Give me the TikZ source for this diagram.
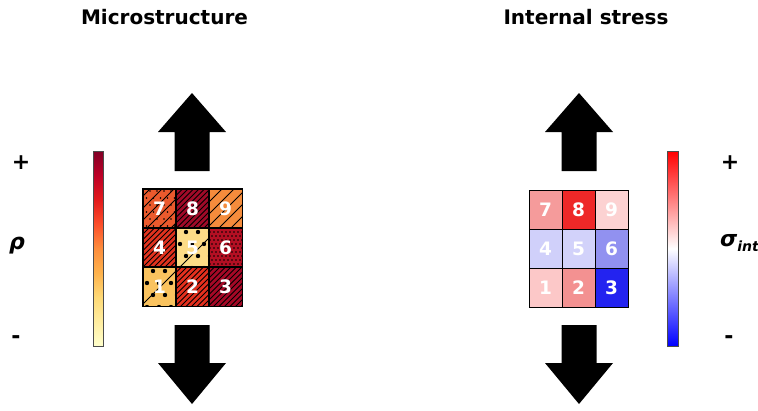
\documentclass[tikz,border=0pt]{standalone}
\usepackage{fontspec}
\setmainfont{DejaVu Sans}
\usetikzlibrary{calc}
\definecolor{yo0}{HTML}{FFFFCC}
\definecolor{yo1}{HTML}{FFEDA0}
\definecolor{yo2}{HTML}{FED976}
\definecolor{yo3}{HTML}{FEB24C}
\definecolor{yo4}{HTML}{FD8D3C}
\definecolor{yo5}{HTML}{FC4E2A}
\definecolor{yo6}{HTML}{E31A1C}
\definecolor{yo7}{HTML}{BD0026}
\definecolor{yo8}{HTML}{800026}
\pgfdeclareverticalshading{ylorrd}{100bp}{color(0bp)=(yo0); color(25bp)=(yo0); color(31.25bp)=(yo1); color(37.5bp)=(yo2); color(43.75bp)=(yo3); color(50bp)=(yo4); color(56.25bp)=(yo5); color(62.5bp)=(yo6); color(68.75bp)=(yo7); color(75bp)=(yo8); color(100bp)=(yo8)}
\pgfdeclareverticalshading{bwr}{100bp}{color(0bp)=(blue); color(25bp)=(blue); color(50bp)=(white); color(75bp)=(red); color(100bp)=(red)}
% left cell colours
\definecolor{La}{HTML}{FAC35F}
\definecolor{Lb}{HTML}{E4301E}
\definecolor{Lc}{HTML}{A50826}
\definecolor{Ld}{HTML}{E1321E}
\definecolor{Le}{HTML}{FDDC87}
\definecolor{Lf}{HTML}{B40F23}
\definecolor{Lg}{HTML}{EB5A2D}
\definecolor{Lh}{HTML}{A00A28}
\definecolor{Li}{HTML}{F58C3C}
% right cell colours
\definecolor{Ra}{HTML}{FCC8C8}
\definecolor{Rb}{HTML}{F39191}
\definecolor{Rc}{HTML}{2323F0}
\definecolor{Rd}{HTML}{D0D0FA}
\definecolor{Re}{HTML}{D2D2FA}
\definecolor{Rf}{HTML}{9191F0}
\definecolor{Rg}{HTML}{F59B9B}
\definecolor{Rh}{HTML}{EE2828}
\definecolor{Ri}{HTML}{FCD2D2}
\newcommand{\hatchdiag}[3]{%
  \begin{scope}
    \clip (#1.south west) rectangle (#1.north east);
    \foreach \s in {#3,#2,...,560} \draw[hatchline] (\s-320,320) -- (\s-180,180);
  \end{scope}}
\newcommand{\hatchone}[2]{%
  \begin{scope}
    \clip (#1.south west) rectangle (#1.north east);
    \draw[hatchline] (#2-320,320) -- (#2-180,180);
  \end{scope}}
\newcommand{\hatchdots}[6]{% cell, spacing, radius, shift of odd rows, x0, y0
  \begin{scope}
    \clip (#1.south west) rectangle (#1.north east);
    \pgfmathtruncatemacro{\nmax}{44/#2+1}
    \foreach \i in {0,...,\nmax} \foreach \j in {0,...,\nmax} {
      \pgfmathsetmacro{\xx}{#5+\i*#2+mod(\j,2)*#4}
      \pgfmathsetmacro{\yy}{#6+\j*#2}
      \fill (\xx,\yy) circle (#3);
    }
  \end{scope}}
\tikzset{
  cell/.style={minimum width=33pt, minimum height=39pt, inner sep=0pt, draw=black, line width=0.8pt},
  num/.style={text=white, font=\fontsize{18.5}{20}\selectfont\bfseries, inner sep=0pt},
  hatchline/.style={black, line width=0.9pt},
  title/.style={font=\fontsize{20}{24}\selectfont\bfseries, inner sep=0pt},
  sign/.style={font=\fontsize{22}{26}\selectfont\bfseries, inner sep=0pt},
  bigarrow/.style={fill=black, draw=none},
  cbar/.style={draw=black!70, line width=0.6pt}
}
\begin{document}
\begin{tikzpicture}[x=1pt, y=-1pt]
\useasboundingbox[fill=white] (0,0) rectangle (758,410);
% titles
\node[title] (t1) at (164.5,17) {Microstructure};
\node[title] (t2) at (586,17) {Internal stress};
% arrows
\foreach \cx/\nm in {192/la, 579/ra} {
  \fill[bigarrow] (\cx,93) -- (\cx+34,132) -- (\cx+17.5,132) -- (\cx+17.5,171) -- (\cx-17.5,171) -- (\cx-17.5,132) -- (\cx-34,132) -- cycle;
  \fill[bigarrow] (\cx,404) -- (\cx+34,363) -- (\cx+17.5,363) -- (\cx+17.5,325) -- (\cx-17.5,325) -- (\cx-17.5,363) -- (\cx-34,363) -- cycle;
}
% colour bars
\shade[shading=ylorrd, cbar] (93,151) rectangle (103,346);
\draw[cbar] (93,151) rectangle (103,346);
\shade[shading=bwr, cbar] (667,151) rectangle (678,346);
\draw[cbar] (667,151) rectangle (678,346);
% labels
\node[sign] (lp) at (21,163) {+};
\node[sign] (lr) at (17,246) {\itshape ρ};
\node[sign] (lm) at (16,340) {-};
\node[sign] (rp) at (730,163) {+};
\node[sign, anchor=west] (rs) at (720,243) {\itshape σ\raisebox{-0.35ex}{\fontsize{14}{15}\selectfont int}};
\node[sign] (rm) at (729,340) {-};
% left grid cells
\node[cell, fill=Lg] (L7) at (159.5,208.5) {};
\node[cell, fill=Lh] (L8) at (192.5,208.5) {};
\node[cell, fill=Li] (L9) at (225.5,208.5) {};
\node[cell, fill=Ld] (L4) at (159.5,247.5) {};
\node[cell, fill=Le] (L5) at (192.5,247.5) {};
\node[cell, fill=Lf] (L6) at (225.5,247.5) {};
\node[cell, fill=La] (L1) at (159.5,286.5) {};
\node[cell, fill=Lb] (L2) at (192.5,286.5) {};
\node[cell, fill=Lc] (L3) at (225.5,286.5) {};
% hatching
\hatchdiag{L7}{351}{339}
\hatchdots{L7}{7}{0.9}{3.5}{143}{191}
\hatchdiag{L8}{338.5}{333}
\hatchdiag{L9}{351}{339}
\hatchdiag{L4}{338.5}{333}
\hatchone{L5}{447}
\hatchdots{L5}{12}{2.2}{6}{174}{232}
\hatchdots{L6}{4}{0.8}{2}{208}{228}
\hatchone{L1}{447}
\hatchdots{L1}{12}{2.2}{6}{141}{271}
\hatchdiag{L2}{338.5}{333}
\hatchdiag{L3}{338.5}{333}
% digits
\foreach \k in {1,...,9} \node[num] (L\k t) at (L\k) {\k};
\foreach \k in {1,...,9} \draw[line width=0.8pt] (L\k.south west) rectangle (L\k.north east);
% right grid cells
\node[cell, fill=Rg] (R7) at (545.5,209.5) {};
\node[cell, fill=Rh] (R8) at (578.5,209.5) {};
\node[cell, fill=Ri] (R9) at (611.5,209.5) {};
\node[cell, fill=Rd] (R4) at (545.5,248.5) {};
\node[cell, fill=Re] (R5) at (578.5,248.5) {};
\node[cell, fill=Rf] (R6) at (611.5,248.5) {};
\node[cell, fill=Ra] (R1) at (545.5,287.5) {};
\node[cell, fill=Rb] (R2) at (578.5,287.5) {};
\node[cell, fill=Rc] (R3) at (611.5,287.5) {};
\foreach \k in {1,...,9} \node[num] (R\k t) at (R\k) {\k};
\end{tikzpicture}
\end{document}
